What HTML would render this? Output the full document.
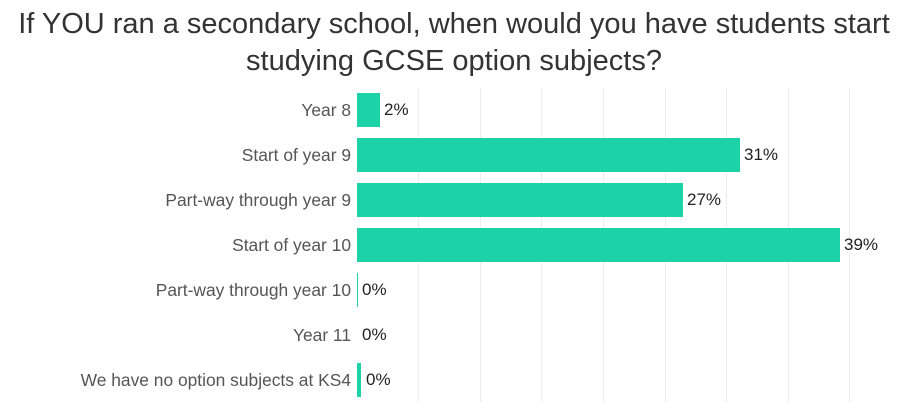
<!DOCTYPE html><html><head><style>
body{margin:0;width:908px;height:402px;background:#fff;position:relative;font-family:"Liberation Sans",sans-serif;overflow:hidden}
.t{position:absolute;left:0;width:908px;text-align:center;font-size:29px;color:#333;white-space:nowrap}
.g{position:absolute;top:88px;height:314px;width:1px;background:#ececec}
.b{position:absolute;left:357px;height:34px;background:#1ed2a8}
.l{position:absolute;right:557px;font-size:17.4px;color:#555;line-height:34px;white-space:nowrap}
.v{position:absolute;font-size:17px;color:#222;line-height:34px}
</style></head><body>
<div class="t" style="top:8px">If YOU ran a secondary school, when would you have students start</div>
<div class="t" style="top:45px">studying GCSE option subjects?</div>
<div class="g" style="left:418px"></div><div class="g" style="left:480px"></div><div class="g" style="left:541px"></div><div class="g" style="left:603px"></div><div class="g" style="left:665px"></div><div class="g" style="left:726px"></div><div class="g" style="left:788px"></div><div class="g" style="left:849px"></div>
<div class="b" style="top:93px;width:23px"></div><div class="l" style="top:93px">Year 8</div><div class="v" style="top:93px;left:384px">2%</div>
<div class="b" style="top:138px;width:383px"></div><div class="l" style="top:138px">Start of year 9</div><div class="v" style="top:138px;left:744px">31%</div>
<div class="b" style="top:183px;width:326px"></div><div class="l" style="top:183px">Part-way through year 9</div><div class="v" style="top:183px;left:687px">27%</div>
<div class="b" style="top:228px;width:483px"></div><div class="l" style="top:228px">Start of year 10</div><div class="v" style="top:228px;left:844px">39%</div>
<div class="b" style="top:273px;width:1px"></div><div class="l" style="top:273px">Part-way through year 10</div><div class="v" style="top:273px;left:362px">0%</div>
<div class="l" style="top:318px">Year 11</div><div class="v" style="top:318px;left:362px">0%</div>
<div class="b" style="top:363px;width:4px"></div><div class="l" style="top:363px">We have no option subjects at KS4</div><div class="v" style="top:363px;left:366px">0%</div>
</body></html>
